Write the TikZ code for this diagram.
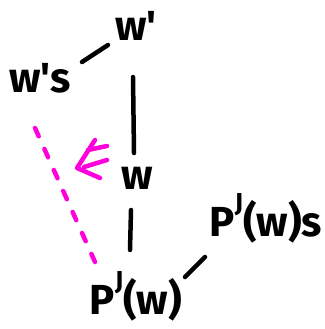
\documentclass[tikz,border=0pt]{standalone}
\usepackage{fontspec}
\setmainfont{Fira Sans}
\definecolor{mag}{RGB}{255,0,220}
\newcommand{\supJ}{\raisebox{0.6em}{\fontsize{26}{26}\selectfont J}}
\newcommand{\apo}{\textquotesingle}
\begin{document}
\begin{tikzpicture}[x=1pt,y=-1pt,
  lbl/.style={inner sep=0pt, font=\fontsize{42}{42}\selectfont\bfseries},
  edge/.style={line width=4.5pt, line cap=round, black},
  magline/.style={line width=4.5pt, line cap=round, mag}]
\useasboundingbox (0,0) rectangle (324,329);
\node[lbl] (ws) at (40,78) {w\apo s};
\node[lbl] (wp) at (136,26) {w\apo};
\node[lbl] (w) at (137,178) {w};
\node[lbl] (pj) at (136,296) {P\supJ(w)};
\node[lbl] (pjs) at (266,218) {P\supJ(w)s};
\draw[edge] ([shift={(42,-16)}]ws.center) -- ([shift={(-28,19)}]wp.center);
\draw[edge] ([shift={(-3,51)}]wp.center) -- ([shift={(-3,-25)}]w.center);
\draw[edge] ([shift={(-6,32)}]w.center) -- ([shift={(-6,-46)}]pj.center);
\draw[edge] ([shift={(49,-19)}]pj.center) -- ([shift={(-61,39)}]pjs.center);
\draw[magline, dash pattern=on 9pt off 14pt] ([shift={(-5,50)}]ws.center) -- ([shift={(-41,-34)}]pj.center);
\coordinate (tip) at (77,168);
\draw[magline, line join=round] (tip) ++(18,-28) -- (tip) -- ++(23,10);
\draw[magline] (tip) ++(11,-18) -- ++(19,-4);
\draw[magline] (tip) ++(7,-1) -- ++(23,-7);
\end{tikzpicture}
\end{document}
